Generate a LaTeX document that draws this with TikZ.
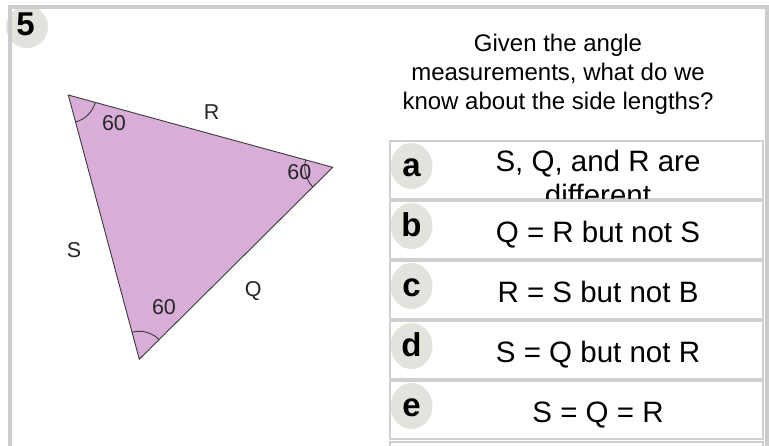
\documentclass[tikz,border=0pt]{standalone}
\usepackage{fontspec}
\setmainfont{Liberation Sans}
\definecolor{framegray}{HTML}{CCCCCC}
\definecolor{boxgray}{HTML}{D0D0D0}
\definecolor{badgefill}{HTML}{E3E3DD}
\definecolor{trifill}{HTML}{D8AED8}
\definecolor{triline}{HTML}{3A3A3A}
\begin{document}
\begin{tikzpicture}[x=1pt,y=-1pt,
  optbox/.style={draw=boxgray, line width=2pt},
  badge/.style={fill=badgefill},
  letter/.style={anchor=base, font=\fontsize{33}{33}\bfseries\selectfont},
  opttext/.style={anchor=base, font=\fontsize{29.5}{35}\selectfont},
  trilabel/.style={font=\fontsize{21.5}{21.5}\selectfont, text=black!85},
  question/.style={align=center, font=\fontsize{24}{29}\selectfont}]
\useasboundingbox (0,0) rectangle (769,445);
\clip (0,0) rectangle (769,445);
\fill[white] (0,0) rectangle (769,445);

% question number badge
\fill[badge] (27,27) circle (21pt);
\node[font=\fontsize{33}{33}\bfseries\selectfont] (num) at (25.5,24) {5};
% frame
\draw[framegray, line width=4pt] (10,470) -- (10,7) -- (767,7) -- (767,470);

% triangle
\coordinate (A) at (68.3,95);
\coordinate (B) at (332.7,167.3);
\coordinate (C) at (139.3,359.3);
\filldraw[fill=trifill, draw=triline, line width=0.9pt] (A) -- (B) -- (C) -- cycle;
\begin{scope}
  \clip (A) -- (B) -- (C) -- cycle;
  \draw[triline, line width=0.9pt] (A) circle (28pt) (B) circle (28pt) (C) circle (28pt);
\end{scope}
\node[trilabel] (angA) at (114,122.7) {60};
\node[trilabel] (angB) at (299.3,171.7) {60};
\node[trilabel] (angC) at (164,306.7) {60};
\node[trilabel] (sideR) at (211.7,112.3) {R};
\node[trilabel] (sideS) at (74,250) {S};
\node[trilabel] (sideQ) at (253.3,290.7) {Q};

% question
\node[question] (q) at (558,74) {Given the angle\\measurements, what do we\\know about the side lengths?};

% options
\foreach \top/\l/\t in {200/b/{Q = R but not S}, 260/c/{R = S but not B}, 320/d/{S = Q but not R}, 380/e/{S = Q = R}} {
  \fill[badge] (411.5,\top+26) ellipse [x radius=21pt, y radius=23pt];
  \draw[optbox] (390,\top+1) rectangle (763,\top+59);
  \node[letter] (l\l) at (411.5,\top+36) {\l};
  \node[opttext] (t\l) at (598,\top+42) {\t};
}
% option a (text overflows the box and is clipped)
\fill[badge] (411.5,166) ellipse [x radius=21pt, y radius=23pt];
\draw[optbox] (390,141) rectangle (763,199);
\node[letter] (la) at (411.5,176) {a};
\begin{scope}
  \clip (391,142) rectangle (762,198);
  \node[opttext] (ta1) at (598,171) {S, Q, and R are};
  \node[opttext] (ta2) at (598,205) {different};
\end{scope}
% next (cut off) box
\draw[optbox] (390,442) rectangle (763,520);
\end{tikzpicture}
\end{document}
